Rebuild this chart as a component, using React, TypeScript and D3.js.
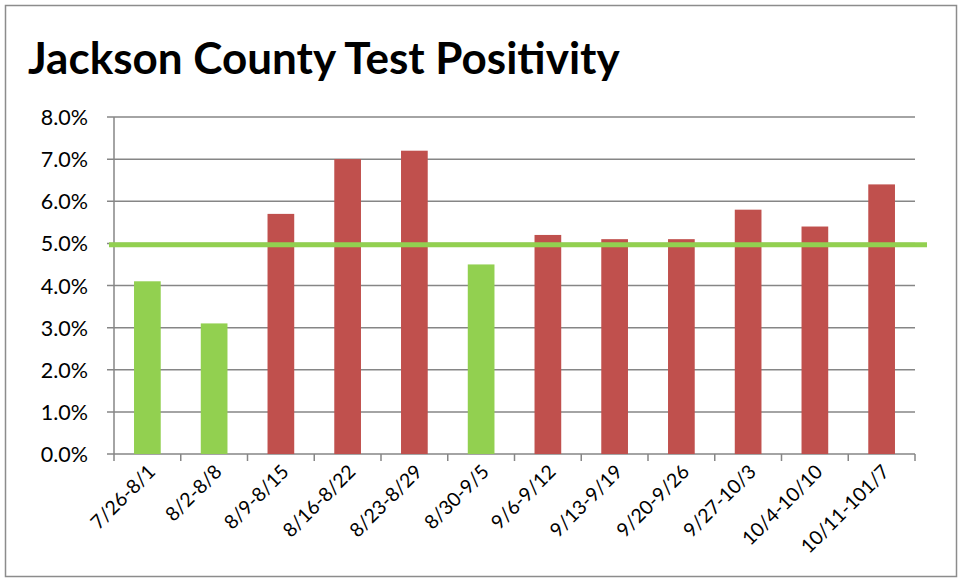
import * as d3 from 'd3';
import { useEffect, useRef } from 'react';

const weeks = [
  '7/26-8/1', '8/2-8/8', '8/9-8/15', '8/16-8/22', '8/23-8/29', '8/30-9/5',
  '9/6-9/12', '9/13-9/19', '9/20-9/26', '9/27-10/3', '10/4-10/10', '10/11-101/7',
];
const positivity = [4.1, 3.1, 5.7, 7.0, 7.2, 4.5, 5.2, 5.1, 5.1, 5.8, 5.4, 6.4];
const target = 4.97;
const yTicks = [0, 1, 2, 3, 4, 5, 6, 7, 8];

export default function App() {
  const svgRef = useRef<SVGSVGElement>(null);

  useEffect(() => {
    const svg = d3.select(svgRef.current);
    svg.selectAll('*').remove();

    const width = 962;
    const height = 581;
    const left = 114, right = 915, top = 117, bottom = 454;
    const font = 'Lato, "Open Sans", sans-serif';

    svg.attr('width', width).attr('height', height);

    // outer frame
    svg.append('rect')
      .attr('x', 5.5).attr('y', 5.5)
      .attr('width', 951).attr('height', 571)
      .attr('fill', '#fff')
      .attr('stroke', '#8c8c8c')
      .attr('stroke-width', 1.5);

    svg.append('text')
      .attr('x', 28).attr('y', 74)
      .attr('font-family', font)
      .attr('font-weight', 700)
      .attr('font-size', 44)
      .attr('fill', '#000')
      .text('Jackson County Test Positivity');

    const x = d3.scaleBand().domain(weeks).range([left, right]).paddingInner(0.6).paddingOuter(0.3);
    const xEdges = d3.scaleLinear().domain([0, weeks.length]).range([left, right]);
    const y = d3.scaleLinear().domain([0, 8]).range([bottom, top]);

    // gridlines
    svg.append('g')
      .selectAll('line')
      .data(yTicks)
      .join('line')
      .attr('x1', left - 7).attr('x2', right)
      .attr('y1', (d) => y(d)).attr('y2', (d) => y(d))
      .attr('stroke', '#868686')
      .attr('stroke-width', 1.5);

    // y axis line
    svg.append('line')
      .attr('x1', left).attr('x2', left)
      .attr('y1', top).attr('y2', bottom)
      .attr('stroke', '#868686')
      .attr('stroke-width', 1.5);

    // x ticks
    svg.append('g')
      .selectAll('line')
      .data(d3.range(weeks.length + 1))
      .join('line')
      .attr('x1', (d) => xEdges(d)).attr('x2', (d) => xEdges(d))
      .attr('y1', bottom).attr('y2', bottom + 7)
      .attr('stroke', '#868686')
      .attr('stroke-width', 1.5);

    svg.append('g')
      .selectAll('text')
      .data(yTicks)
      .join('text')
      .attr('x', 88)
      .attr('y', (d) => y(d) + 8)
      .attr('text-anchor', 'end')
      .attr('font-family', font)
      .attr('font-size', 21.5)
      .attr('fill', '#000')
      .text((d) => d.toFixed(1) + '%');

    // bars
    svg.append('g')
      .selectAll('rect')
      .data(positivity)
      .join('rect')
      .attr('x', (_, i) => x(weeks[i])!)
      .attr('width', x.bandwidth())
      .attr('y', (d) => y(d))
      .attr('height', (d) => bottom - y(d))
      .attr('fill', (d) => (d < 5 ? '#92d050' : '#c0504d'));

    // 5% target line
    svg.append('line')
      .attr('x1', 109).attr('x2', 927)
      .attr('y1', y(target)).attr('y2', y(target))
      .attr('stroke', '#92d050')
      .attr('stroke-width', 5);

    // x labels
    svg.append('g')
      .selectAll('text')
      .data(weeks)
      .join('text')
      .attr('text-anchor', 'end')
      .attr('font-family', font)
      .attr('font-size', 19.5)
      .attr('fill', '#000')
      .attr('transform', (d) => `translate(${x(d)! + x.bandwidth() / 2 + 9},${bottom + 19}) rotate(-45)`)
      .text((d) => d);
  }, []);

  return <svg ref={svgRef} style={{ display: 'block', position: 'absolute', left: 0, top: 0 }} />;
}
